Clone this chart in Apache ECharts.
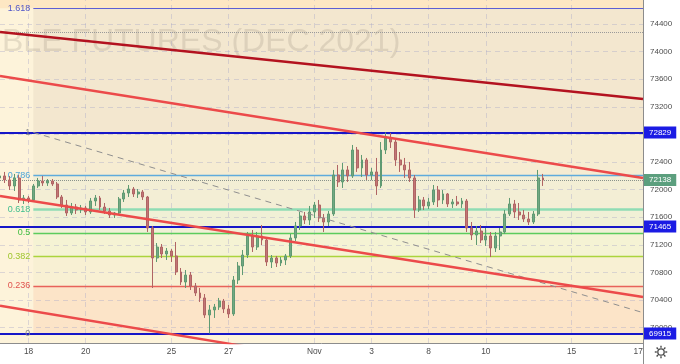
<!DOCTYPE html>
<html><head><meta charset="utf-8">
<script src="https://cdn.jsdelivr.net/npm/echarts@6/dist/echarts.min.js"></script>
<style>html,body{margin:0;padding:0;background:#fff}#c{width:680px;height:364px}</style>
</head><body><div id="c"></div>
<script>
// ---- data ----
const tradingDays = ['Oct 15','Oct 18','Oct 19','Oct 20','Oct 21','Oct 22','Oct 25','Oct 26','Oct 27','Oct 28','Oct 29',
  'Nov 1','Nov 2','Nov 3','Nov 5','Nov 8','Nov 9','Nov 10','Nov 11','Nov 12','Nov 15','Nov 16','Nov 17'];
const barsPerDay = 6;
const barCount = 136;
const dayTickBars = [6, 18, 36, 48, 66, 78, 90, 102, 120, 134];
const dayTickLabels = ['18', '20', '25', '27', 'Nov', '3', '8', '10', '15', '17'];

const barOpen = [72169,72198,72140,72053,72169,71850,71879,71850,72053,72125,
72096,72125,72082,71893,71777,71661,71748,71705,71734,71676,
71835,71879,71748,71690,71632,71661,71864,71951,72009,71937,
71966,71893,71444,71009,71168,71067,71110,71038,70806,70661,
70762,70603,70502,70430,70183,70256,70299,70386,70270,70198,
70690,70893,71052,71328,71168,71328,71270,70951,71009,70936,
70980,71038,71299,71473,71618,71560,71676,71777,71589,71531,
71647,72212,72111,72285,72198,72574,72314,72430,72212,72256,
72053,72574,72748,72690,72430,72357,72285,72169,71705,71850,
71763,71821,71995,71850,71937,71792,71821,71792,71835,71444,
71342,71400,71270,71328,71154,71328,71386,71647,71792,71676,
71632,71574,71531,71647,72169];
const barHigh = [72241,72256,72198,72227,72212,71922,71908,72082,72169,72198,
72154,72154,72111,71922,71850,71806,71792,71777,71763,71879,
71922,71908,71806,71734,71676,71893,71995,72067,72038,72009,
71995,71908,71473,71226,71212,71154,71139,71241,70864,70835,
70806,70647,70574,70487,70328,70343,70430,70415,70328,70748,
70951,71125,71386,71415,71386,71487,71299,71052,71038,71023,
71067,71357,71531,71676,71676,71763,71821,71850,71647,71690,
72285,72357,72386,72343,72647,72618,72502,72459,72314,72459,
72690,72829,72821,72719,72545,72459,72401,72212,71908,71893,
71879,72067,72053,71995,71951,71864,71908,71879,71864,71531,
71473,71487,71444,71386,71386,71444,71705,71879,71850,71806,
71705,71676,71690,72285,72227];
const barLow = [72111,72096,71995,71980,71806,71792,71806,71821,72024,72053,
72053,72053,71864,71734,71618,71632,71647,71661,71632,71647,
71763,71705,71647,71589,71589,71632,71821,71893,71893,71879,
71850,71386,70574,70951,71009,70980,70951,70762,70618,70574,
70545,70458,70372,70140,69915,70140,70256,70212,70140,70169,
70632,70762,71009,71096,71125,71197,70893,70864,70878,70893,
70907,71009,71255,71415,71502,71487,71589,71531,71386,71473,
71618,72038,72024,72111,72169,72256,72183,72140,72140,71922,
72024,72516,72603,72343,72256,72169,72111,71589,71676,71705,
71719,71777,71748,71792,71748,71734,71763,71734,71386,71270,
71197,71226,71183,71023,71096,71125,71357,71618,71589,71560,
71531,71487,71502,71618,72053];
const barClose = [72198,72140,72053,72169,71850,71879,71850,72053,72125,72096,
72125,72082,71893,71777,71661,71748,71705,71734,71676,71835,
71879,71748,71690,71632,71661,71864,71951,72009,71937,71966,
71893,71444,71009,71168,71067,71110,71038,70806,70661,70762,
70603,70502,70430,70183,70256,70299,70386,70270,70198,70690,
70893,71052,71328,71168,71328,71270,70951,71009,70936,70980,
71038,71299,71473,71618,71560,71676,71777,71589,71531,71647,
72212,72111,72285,72198,72574,72314,72430,72212,72256,72053,
72574,72748,72690,72430,72357,72285,72169,71705,71850,71763,
71821,71995,71850,71937,71792,71821,71792,71835,71444,71342,
71400,71270,71328,71154,71328,71386,71647,71792,71676,71632,
71574,71531,71647,72169,72138];

const yMin = 69777, yMax = 74748;
const priceTicks = [70000,70400,70800,71200,71600,72000,72400,72800,73200,73600,74000,74400];

const fibRatios = ['1.618','1','0.786','0.618','0.5','0.382','0.236','0'];
const fibPrices = [74630,72829,72205,71716,71372,71028,70603,69915];
const fibStartBar = 7;

const keyLevels = [72829, 71465, 69915];
const lastPrice = 72138;
const dottedLevel = 74280;

// trend lines: [startBar, startPrice, endBar, endPrice]
const trendOuter = [0, 74284, 135, 73313];
const trendUpper = [0, 73647, 135, 72169];
const trendLower = [0, 71908, 135, 70444];
const trendBottom = [0, 70318, 135, 68770];
const trendDashed = [7, 72829, 135, 70217];

// ---- styles ----
const fibLineColors = ['#5d5fd4','#9a9a9a','#5fabdc','#8fdcb4','#5ccc5c','#abd43c','#e8625a','#9a9a9a'];
const fibLineWidths = [1.2,1,1.4,2.6,1.4,1.4,1.4,1];
const fibLabelColors = ['#5257c8','#8a8a8a','#4ea5d8','#3fbe8e','#3fbd3f','#9ec52c','#e0554f','#8a8a8a'];
const fibFills = ['#f3e7cf','#f6ecd2','#f3eed5','#f0f0d6','#f5f3d4','#f8f0d3','#fce4c8'];
const baseFill = '#fdf3da';
const topFill = '#fde7c3';

const categories = [];
tradingDays.forEach(d => { for (let k = 0; k < barsPerDay; k++) categories.push(d + ' ' + (k + 1)); });
categories.length = barCount;
const lastBar = barCount - 1;
const tickMap = new Map(dayTickBars.map((b, i) => [b, dayTickLabels[i]]));

const candleData = barOpen.map((o, i) => [o, barClose[i], barLow[i], barHigh[i]]);

function trend(seg, color, width, type, z) {
  return {type:'line', data:[[seg[0], seg[1]], [seg[2], seg[3]]], showSymbol:false, silent:true, z:z,
    lineStyle:{color:color, width:width, type:type}, animation:false};
}

const chart = echarts.init(document.getElementById('c'), null, {renderer:'canvas'});
const gridLineStyle = {color:'rgba(165,165,200,0.38)', width:1, type:[5,4]};
const ff = 'Liberation Sans, Arial, sans-serif';

const option = {
  backgroundColor:'#ffffff',
  animation:false,
  grid:{left:0, right:37, top:0, bottom:21},
  xAxis:{type:'category', data:categories, boundaryGap:false,
    axisLine:{show:true, lineStyle:{color:'#8c8c8c', width:1}},
    axisTick:{show:false},
    splitLine:{show:false},
    axisLabel:{interval:(i) => tickMap.has(i), formatter:(v, i) => tickMap.get(i) || '',
      color:'#4d4d4d', fontSize:8.4, margin:5, fontFamily:ff}},
  yAxis:{type:'value', position:'right', min:yMin, max:yMax,
    axisLine:{show:true, lineStyle:{color:'#8c8c8c', width:1}},
    axisTick:{show:false}, axisLabel:{show:false}, splitLine:{show:false}},
  graphic:[
    {type:'text', x:2, y:42, z:2, silent:true,
      style:{text:'BLE FUTURES (DEC 2021)', font:'32px "Liberation Sans", Arial, sans-serif',
        fill:'rgba(120,112,100,0.18)', verticalAlign:'middle', align:'left'}},
    {type:'line', shape:{x1:643.5, y1:343, x2:643.5, y2:364}, style:{stroke:'#8c8c8c', lineWidth:1}, z:10},
    {type:'circle', shape:{cx:661, cy:352, r:3.2}, style:{fill:'none', stroke:'#4a4a4a', lineWidth:1.3}, z:10},
    ...[0,1,2,3,4,5,6,7].map(k => {
      const a = k * Math.PI / 4;
      return {type:'line', shape:{x1:661 + 4.2*Math.cos(a), y1:352 + 4.2*Math.sin(a), x2:661 + 6.2*Math.cos(a), y2:352 + 6.2*Math.sin(a)},
        style:{stroke:'#4a4a4a', lineWidth:1.4}, z:10};
    })
  ],
  series:[
    {type:'line', data:[], z:1, silent:true,
      markArea:{silent:true, animation:false, data:[
        [{coord:[0, yMax], itemStyle:{color:baseFill}}, {coord:[lastBar, yMin]}],
        [{coord:[0, yMax], itemStyle:{color:topFill}}, {coord:[lastBar, fibPrices[0]]}],
        ...fibFills.map((c, i) => [{coord:[fibStartBar, fibPrices[i]], itemStyle:{color:c}}, {coord:[lastBar, fibPrices[i+1]]}])
      ]}},
    {type:'line', data:[], z:3, silent:true,
      markLine:{symbol:'none', silent:true, animation:false, lineStyle:gridLineStyle,
        data:[
          ...priceTicks.map(v => ({yAxis:v, label:{show:true, position:'end', formatter:String(v), color:'#4d4d4d',
             fontSize:8, distance:7, fontFamily:ff}})),
          ...dayTickBars.slice(0, -1).map(b => ({xAxis:b, label:{show:false}}))
        ]}},
    {type:'candlestick', data:candleData, z:5, barWidth:2.4, silent:true, animation:false,
      itemStyle:{color:'#72a883', color0:'#c27676', borderColor:'#5f9a72', borderColor0:'#b06464', borderWidth:1}},
    {type:'line', data:[], z:6, silent:true,
      markLine:{symbol:'none', silent:true, animation:false,
        data: fibPrices.map((p, i) => [
          {coord:[fibStartBar, p], lineStyle:{color:fibLineColors[i], width:fibLineWidths[i], type:'solid'},
            label:{show:true, position:'start', formatter:fibRatios[i], color:fibLabelColors[i], fontSize:9, distance:3,
              fontFamily:ff}},
          {coord:[lastBar, p]}
        ])}},
    trend(trendDashed, '#8f8f8f', 1, [6,5], 6),
    trend(trendOuter, '#b3121f', 2.6, 'solid', 6),
    trend(trendUpper, '#ec4a4a', 2.4, 'solid', 6),
    trend(trendLower, '#ec4a4a', 2.4, 'solid', 6),
    trend(trendBottom, '#ec4a4a', 2.4, 'solid', 6),
    {type:'line', data:[], z:7, silent:true,
      markLine:{symbol:'none', silent:true, animation:false,
        data:[
          {yAxis:dottedLevel, lineStyle:{color:'#9a9a9a', type:'dotted', width:1}, label:{show:false}},
          {yAxis:lastPrice, lineStyle:{color:'#8a938c', type:'dotted', width:1},
            label:{show:true, position:'end', formatter:String(lastPrice), color:'#fff', backgroundColor:'#5c9f7e',
              padding:[2,5,2,5], distance:1, fontSize:8, fontFamily:ff}},
          ...keyLevels.map(v => ({yAxis:v, lineStyle:{color:'#1616c8', width:2.2, type:'solid'},
            label:{show:true, position:'end', formatter:String(v), color:'#fff', backgroundColor:'#1b1be4',
              padding:[2,5,2,5], distance:1, fontSize:8, fontFamily:ff}}))
        ]}}
  ]
};
chart.setOption(option);
</script></body></html>
